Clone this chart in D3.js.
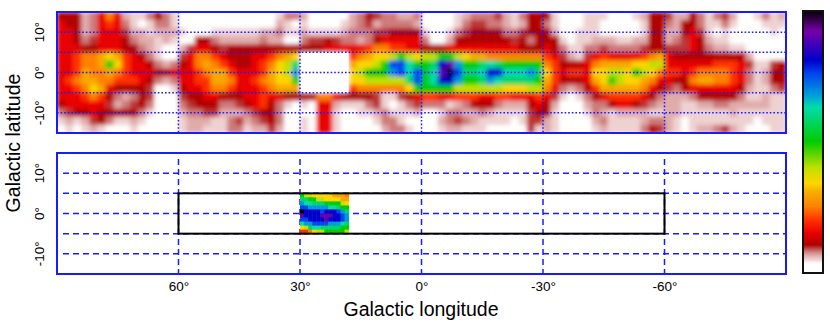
<!DOCTYPE html>
<html>
<head>
<meta charset="utf-8">
<script src="https://cdn.jsdelivr.net/npm/d3@7"></script>
<style>
  html, body { margin: 0; padding: 0; background: #fff; }
  svg { display: block; }
  text { font-family: "Liberation Sans", Arial, sans-serif; fill: #000; }
</style>
</head>
<body>
<div id="chart"></div>
<script>
// survey map, one character per cell (level index, base 36). cells are 2 x 2 deg,
// rows run from lat +15 down to -15, columns from lon +90 to -90
const surveyRows = [
  "5552368621 1353100000 0000000133 2000002354 3322300001 2333421355 5100011100 0125542253 1342001312",
  "6552367631 0133100000 0000000210 1000012342 3333200001 3443321255 3100011000 0015532553 1131000111",
  "6652366642 2122210001 1111122311 2111123334 4555510013 4555533455 5200111000 0015522564 1010000010",
  "6653466653 2212100553 2222232200 3445433235 6666630025 5555554535 5510112221 1225523465 2110000000",
  "6665566655 3210024665 4555555555 5556666678 8776655566 6666666555 6531133433 3345544465 3221100000",
  "667889a976 5310046887 655566789a 000000789a abcbabbccb a998888888 7642146766 6678965555 5555520000",
  "667889ca76 6532356898 7655678abd 0000009aab cggeccdhif ccdedccccc 8755568999 9aabb66666 6777641145",
  "6679889876 6655666789 9766679abf 000000abcc cfgegceijg ddehheeefd a76776aabb acba877678 8887631255",
  "6789988777 6532366779 9866789aac 000000aabb bbbdgcehhf ccdfeddddc 9755569acb aa98665589 9887631255",
  "6678a96555 5400156678 8766678999 0000007888 888acccccb bbbbbaaabb 8632357999 9986543566 6666521134",
  "6667875323 5400045566 5556676655 5588655554 1145677667 7766776667 6410135677 7765322235 5555311211",
  "5666664234 5300034555 3345675310 1066211134 1013433312 3555322256 5200023356 6543222112 2332222211",
  "3455655555 3100023344 2223455300 0066100112 3111200133 2232111145 5100013212 2221122111 1112111111",
  "1212453112 1000012221 1342345300 1066100001 3310000234 3211110144 2100002311 1123321011 1111110111",
  "0101210001 0000012211 1331224200 1066100000 2331000122 1110000041 2100001211 1135421012 2342100011"
];

// second survey, 1 x 1 deg, lon 30 to 18, lat 5 to -5
const insetRows = [
  "cbbaaaaa9998",
  "ddccbbaaaa99",
  "feedddccccba",
  "ggfffffeedcc",
  "jhhhhghhhgfd",
  "ihhhhiiihhgf",
  "gghhhhihhhgf",
  "effggggfffed",
  "abdeedddddcc",
  "778abbcccccb"
];

// value for each level character
const levelValues = [0, .05, .065, .08, .095, .105, .15, .2, .25, .3, .34, .4, .5, .58, .63, .68, .76, .81, .9, 1];

const colorStops = [0, .035, .045, .06, .075, .09, .105, .15, .2, .25, .31, .34, .4, .5, .63, .68, .76, .81, .92, 1];
const colorValues = ["#ffffff", "#ffffff", "#f2dede", "#e6b9b9", "#d58e8e", "#c14e4e", "#b00000", "#e80000", "#ff3000", "#ff8000",
  "#f5b000", "#ffd500", "#c0e000", "#00cc00", "#00ddaa", "#0099dd", "#0044ee", "#0000cc", "#7700aa", "#000000"];

const lonTicks = [60, 30, 0, -30, -60];
const latTicks = [10, 0, -10];
const latGrid = [10, 5, 0, -5, -10];
const surveyBox = { lon: [60, -60], lat: [5, -5] };
const blankBox = { lon: [30, 18], lat: [5, -5] };

const width = 830, height = 325;
const blue = "#1a1aff";

const svg = d3.select("#chart").append("svg")
    .attr("width", width)
    .attr("height", height);

const _color = d3.scaleLinear().domain(colorStops).range(colorValues);
const _x = d3.scaleLinear().domain([90, -90]).range([57, 786]);
const _yTop = d3.scaleLinear().domain([15, -15]).range([12, 133]);
const _yBottom = d3.scaleLinear().domain([15, -15]).range([153, 274]);

function parseRows (rows) {
    return rows.map(function (r) {
        return r.replace(/\s/g, "").split("").map(function (c) {
            return levelValues[parseInt(c, 36)];
        });
    });
}

function drawCells (g, rows, lon0, lat0, step, y) {
    parseRows(rows).forEach(function (row, j) {
        g.selectAll("rect.r" + j)
            .data(row)
            .enter()
            .append("rect")
            .attr("class", "r" + j)
            .attr("x", function (d, i) { return _x(lon0 - i * step); })
            .attr("y", y(lat0 - j * step))
            .attr("width", _x(0) - _x(step) + .5)
            .attr("height", y(0) - y(step) + .5)
            .attr("fill", function (d) { return _color(d); });
    });
}

function drawGrid (g, y, dash, inset) {
    g.selectAll("line.h")
        .data(latGrid)
        .enter().append("line")
        .attr("class", "h")
        .attr("x1", _x.range()[0] + inset)
        .attr("x2", _x.range()[1])
        .attr("y1", y)
        .attr("y2", y)
        .attr("stroke", blue)
        .attr("stroke-width", 1.5)
        .attr("stroke-dasharray", dash);
    g.selectAll("line.v")
        .data(lonTicks)
        .enter().append("line")
        .attr("class", "v")
        .attr("x1", _x)
        .attr("x2", _x)
        .attr("y1", y.range()[0] + inset)
        .attr("y2", y.range()[1])
        .attr("stroke", blue)
        .attr("stroke-width", 1.5)
        .attr("stroke-dasharray", dash);
}

function drawFrame (y) {
    svg.append("rect")
        .attr("x", _x.range()[0])
        .attr("y", y.range()[0])
        .attr("width", _x.range()[1] - _x.range()[0])
        .attr("height", y.range()[1] - y.range()[0])
        .attr("fill", "none")
        .attr("stroke", blue)
        .attr("stroke-width", 2);
}

function boxRect (g, box, y) {
    return g.append("rect")
        .attr("x", _x(box.lon[0]))
        .attr("y", y(box.lat[0]))
        .attr("width", _x(box.lon[1]) - _x(box.lon[0]))
        .attr("height", y(box.lat[1]) - y(box.lat[0]));
}

const defs = svg.append("defs");
defs.append("filter")
    .attr("id", "soft")
    .attr("x", "-5%").attr("y", "-5%").attr("width", "110%").attr("height", "110%")
    .append("feGaussianBlur")
    .attr("stdDeviation", 2);
defs.append("clipPath")
    .attr("id", "topClip")
    .append("rect")
    .attr("x", 57).attr("y", 12)
    .attr("width", 729).attr("height", 121);

// top panel
const topG = svg.append("g").attr("clip-path", "url(#topClip)");
const cellsG = topG.append("g").attr("filter", "url(#soft)");
drawCells(cellsG, surveyRows, 90, 15, 2, _yTop);
boxRect(topG, blankBox, _yTop).attr("fill", "#fff");
drawGrid(svg.append("g"), _yTop, "1.6,2", 0);
drawFrame(_yTop);

// bottom panel
drawGrid(svg.append("g"), _yBottom, "6,4", 6);
const insetG = svg.append("g");
drawCells(insetG, insetRows, 30, 5, 1, _yBottom);
boxRect(svg, surveyBox, _yBottom)
    .attr("fill", "none")
    .attr("stroke", "#000")
    .attr("stroke-width", 2);
drawFrame(_yBottom);

// axes, labels only
const xAxis = d3.axisBottom(_x).tickValues(lonTicks).tickSize(0).tickPadding(0)
    .tickFormat(function (d) { return d + "°"; });
const xG = svg.append("g")
    .attr("transform", "translate(0,281)")
    .call(xAxis);
xG.select(".domain").remove();
xG.selectAll("text").style("font-size", "13.5px");

[_yTop, _yBottom].forEach(function (y) {
    svg.selectAll(null)
        .data(latTicks)
        .enter().append("text")
        .attr("transform", function (d) { return "translate(44," + y(d) + ") rotate(-90)"; })
        .attr("text-anchor", "middle")
        .style("font-size", "13.5px")
        .text(function (d) { return d + "°"; });
});

svg.append("text")
    .attr("x", 421)
    .attr("y", 316)
    .attr("text-anchor", "middle")
    .style("font-size", "19.5px")
    .text("Galactic longitude");

svg.append("text")
    .attr("transform", "translate(20,143) rotate(-90)")
    .attr("text-anchor", "middle")
    .style("font-size", "19.5px")
    .text("Galactic latitude");

// colour bar
const _yBar = d3.scaleLinear().domain([0, 1]).range([273, 11]);
const barSteps = d3.range(0, 1, 1 / 131);
svg.append("g").selectAll("rect")
    .data(barSteps)
    .enter().append("rect")
    .attr("x", 803)
    .attr("y", function (d) { return _yBar(d) - 2; })
    .attr("width", 20)
    .attr("height", 2.5)
    .attr("fill", function (d) { return _color(d); });
svg.append("rect")
    .attr("x", 803)
    .attr("y", 11)
    .attr("width", 20)
    .attr("height", 262)
    .attr("fill", "none")
    .attr("stroke", "#111")
    .attr("stroke-width", 2);
</script>
</body>
</html>
